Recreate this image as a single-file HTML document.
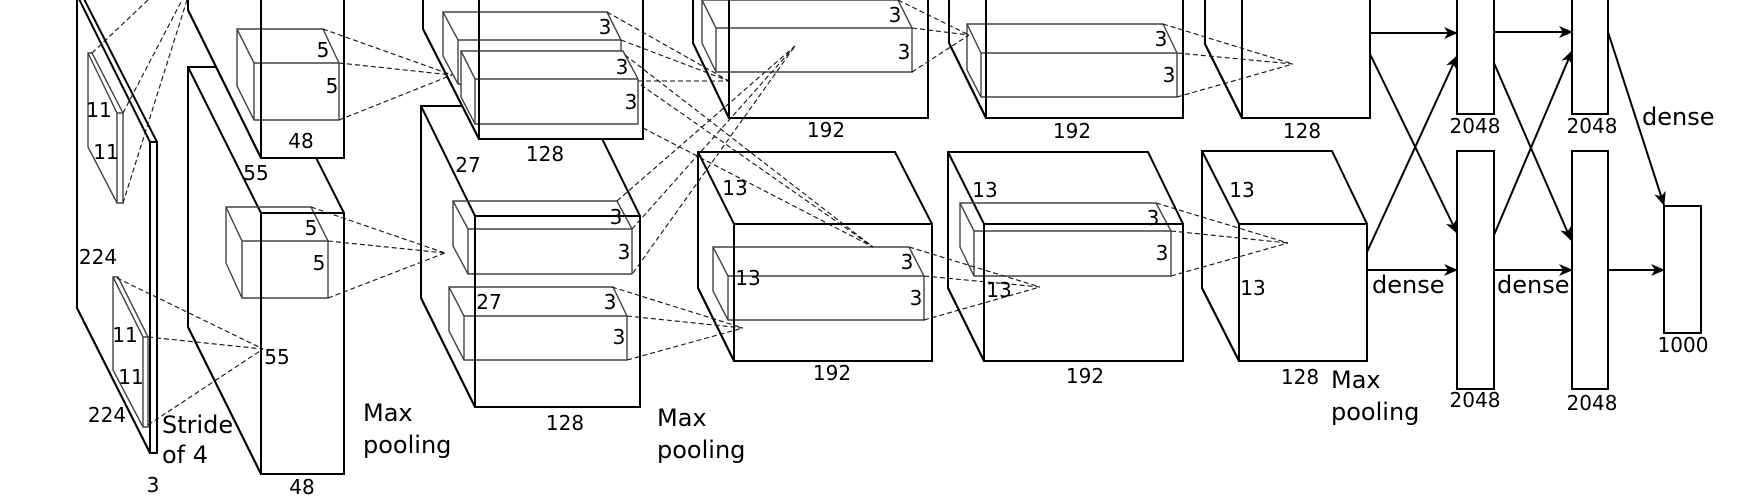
<!DOCTYPE html>
<html><head><meta charset="utf-8"><style>
html,body{margin:0;padding:0;background:#fff;}
svg{display:block;}
text{font-family:"DejaVu Sans","Liberation Sans",sans-serif;fill:#000;}
.n{font-size:20px;text-anchor:middle;dominant-baseline:central;}
.w{font-size:24px;dominant-baseline:central;}
.box{fill:#fff;stroke:#000;stroke-width:2;stroke-linejoin:miter;}
.boxl{fill:none;stroke:#000;stroke-width:2;}
.ker{fill:none;stroke:#444;stroke-width:1.4;}
.kerf{fill:#fff;stroke:#444;stroke-width:1.4;}
.dash{stroke:#111;stroke-width:1.1;stroke-dasharray:5,3;fill:none;}
.arr{stroke:#000;stroke-width:2;fill:none;}
</style></head><body>
<svg id="svg" width="1755" height="502" viewBox="0 0 1755 502" xmlns="http://www.w3.org/2000/svg">
<defs><marker id="ah" markerWidth="14" markerHeight="12" refX="13" refY="6" orient="auto" markerUnits="userSpaceOnUse"><path d="M0,0 L14,6 L0,12 L4,6 Z" fill="#000"/></marker></defs>
<g id="boxes"></g>
<g id="dashes"></g>
<g id="arrows"></g>
<g id="labels">
<text class="n" x="99" y="110">11</text><text class="n" x="106" y="152">11</text>
<text class="n" x="125" y="335">11</text><text class="n" x="131" y="377">11</text>
<text class="n" x="98" y="257">224</text><text class="n" x="107" y="415">224</text>
<text class="n" x="153" y="485">3</text>
<text class="w" x="162" y="425">Stride</text><text class="w" x="162" y="455">of 4</text>
<text class="n" x="323" y="50">5</text><text class="n" x="332" y="86">5</text>
<text class="n" x="311" y="228">5</text><text class="n" x="319" y="263">5</text>
<text class="n" x="301" y="141">48</text><text class="n" x="302" y="487">48</text>
<text class="n" x="256" y="173">55</text><text class="n" x="277" y="357">55</text>
<text class="w" x="363" y="413">Max</text><text class="w" x="363" y="445">pooling</text>
<text class="n" x="468" y="165">27</text><text class="n" x="489" y="302">27</text>
<text class="n" x="545" y="154">128</text><text class="n" x="565" y="423">128</text>
<text class="n" x="605" y="27">3</text><text class="n" x="622" y="67">3</text><text class="n" x="631" y="102">3</text>
<text class="n" x="616" y="217">3</text><text class="n" x="624" y="252">3</text>
<text class="n" x="610" y="302">3</text><text class="n" x="619" y="337">3</text>
<text class="w" x="657" y="418">Max</text><text class="w" x="657" y="450">pooling</text>
<text class="n" x="895" y="15">3</text><text class="n" x="904" y="52">3</text>
<text class="n" x="826" y="130">192</text>
<text class="n" x="735" y="188">13</text><text class="n" x="748" y="278">13</text>
<text class="n" x="907" y="262">3</text><text class="n" x="916" y="298">3</text>
<text class="n" x="832" y="373">192</text>
<text class="n" x="1161" y="39">3</text><text class="n" x="1169" y="75">3</text>
<text class="n" x="1072" y="131">192</text>
<text class="n" x="985" y="190">13</text><text class="n" x="999" y="290">13</text>
<text class="n" x="1153" y="218">3</text><text class="n" x="1162" y="253">3</text>
<text class="n" x="1085" y="376">192</text>
<text class="n" x="1302" y="131">128</text><text class="n" x="1300" y="377">128</text>
<text class="n" x="1242" y="190">13</text><text class="n" x="1253" y="288">13</text>
<text class="w" x="1331" y="380">Max</text><text class="w" x="1331" y="412">pooling</text>
<text class="n" x="1475" y="126">2048</text><text class="n" x="1592" y="126">2048</text>
<text class="n" x="1475" y="400">2048</text><text class="n" x="1592" y="403">2048</text>
<text class="n" x="1683" y="345">1000</text>
<text class="w" x="1642" y="117">dense</text>
<text class="w" x="1372" y="285">dense</text>
<text class="w" x="1497" y="285">dense</text>
</g>
</svg>
<script>
// cuboids: name, bx, by, btx, by2, fx0, fy0, fx1, fy1
const boxes = [
 ['input-layer',77,-5,82,308,150,142,157,453],
 ['conv1-bottom',188,67,270,327,261,213,344,474],
 ['conv1-top',188,-40,300,10,261,-40,344,158],
 ['conv2-bottom',421,106,586,298,475,216,640,407],
 ['conv2-top',423,-40,600,29,479,-40,643,139],
 ['conv3-top',693,-40,900,43,729,-40,928,118],
 ['conv3-bottom',698,152,895,288,734,224,932,361],
 ['conv4-top',949,-40,1150,43,986,-40,1183,118],
 ['conv4-bottom',948,152,1148,288,984,224,1183,361],
 ['conv5-top',1205,-40,1340,44,1242,-40,1370,118],
 ['conv5-bottom',1202,151,1332,288,1239,224,1367,361]
];
const kernels = [
 ['input-kernel-top',88,53,92,147,117,113,123,203,0],
 ['input-kernel-bottom',113,277,118,370,143,337,148,427,0],
 ['conv1-kernel-top',237,29,323,86,254,63,339,120,0],
 ['conv1-kernel-bottom',226,207,311,263,242,241,328,298,0],
 ['conv2-kernel-top-1',443,12,607,56,458,40,621,84,0],
 ['conv2-kernel-top-2',461,51,623,97,475,79,638,124,1],
 ['conv2-kernel-bottom-1',453,201,617,246,468,229,632,274,0],
 ['conv2-kernel-bottom-2',449,287,613,331,464,316,627,360,0],
 ['conv3-kernel-top',702,0,898,43,716,28,912,72,0],
 ['conv3-kernel-bottom',713,247,909,291,728,276,924,320,0],
 ['conv4-kernel-top',967,24,1163,70,981,53,1177,97,0],
 ['conv4-kernel-bottom',960,203,1156,247,974,231,1171,276,0]
];
const dense = [
 ['fc6-top',1457,-5,1494,114],['fc6-bottom',1457,151,1494,389],
 ['fc7-top',1572,-5,1608,114],['fc7-bottom',1572,151,1608,389],
 ['fc8-output',1664,206,1701,333]
];
const dashGroups = [
 [[[92,53],[148,0]],[[123,113],[182,0]],[[123,203],[187,0]]],
 [[[117,278],[263,349]],[[148,337],[263,349]],[[148,425],[263,349]]],
 [[[323,29],[452,75]],[[339,63],[452,75]],[[339,120],[452,75]]],
 [[[311,207],[445,253]],[[328,241],[445,253]],[[328,298],[445,253]]],
 [[[607,12],[729,81]],[[621,40],[729,81]],[[638,81],[729,81]]],
 [[[625,55],[873,247]],[[641,85],[873,247]],[[643,128],[873,247]]],
 [[[617,201],[795,46]],[[632,229],[795,46]],[[633,273],[795,46]]],
 [[[612,287],[743,328]],[[627,316],[743,328]],[[627,360],[743,328]]],
 [[[898,0],[969,35]],[[912,28],[969,35]],[[912,72],[969,35]]],
 [[[909,247],[1040,287]],[[924,276],[1040,287]],[[924,320],[1040,287]]],
 [[[1163,24],[1293,64]],[[1177,53],[1293,64]],[[1177,97],[1293,64]]],
 [[[1156,203],[1288,243]],[[1171,231],[1288,243]],[[1171,276],[1288,243]]]
];
const arrowList = [
 [1370,33,1457,33],[1370,54,1457,233],[1367,252,1457,56],[1367,270,1457,270],
 [1494,32,1572,32],[1494,63,1571,240],[1494,235,1572,51],[1494,270,1572,270],
 [1608,32,1664,205],[1608,270,1664,270]
];
const NS='http://www.w3.org/2000/svg';
const gB=document.getElementById('boxes'),gD=document.getElementById('dashes'),gA=document.getElementById('arrows');
function mk(tag,parent,cls,d){const e=document.createElementNS(NS,tag);e.setAttribute('class',cls);if(d)e.setAttribute('d',d);parent.appendChild(e);return e;}
function outline(b){return `M${b[1]},${b[2]} L${b[3]},${b[2]} L${b[7]},${b[6]} L${b[7]},${b[8]} L${b[5]},${b[8]} L${b[1]},${b[4]} Z`;}
function inner(b){return `M${b[1]},${b[2]} L${b[5]},${b[6]} L${b[7]},${b[6]} M${b[5]},${b[6]} L${b[5]},${b[8]}`;}
function front(b){return `M${b[5]},${b[6]} L${b[7]},${b[6]} L${b[7]},${b[8]} L${b[5]},${b[8]} Z M${b[1]},${b[2]} L${b[1]},${b[4]} L${b[5]},${b[8]}`;}
const kernOf={'input-layer':[0,1],'conv1-top':[2],'conv1-bottom':[3],'conv2-top':[4,5],'conv2-bottom':[6,7],'conv3-top':[8],'conv3-bottom':[9],'conv4-top':[10],'conv4-bottom':[11]};
boxes.forEach(b=>{
 const g=document.createElementNS(NS,'g');
 
 
 gB.appendChild(g);
 mk('path',g,'box',outline(b));
 mk('path',g,'boxl',inner(b));
 (kernOf[b[0]]||[]).forEach(i=>{
  const k=kernels[i];
  const kg=document.createElementNS(NS,'g');
  
  
  g.appendChild(kg);
  mk('path',kg,k[9]?'kerf':'ker',outline(k));
  mk('path',kg,'ker',inner(k));
 });
 mk('path',g,'boxl',front(b));
});
dense.forEach(r=>{
 const e=mk('rect',gB,'box');
 
 
 e.setAttribute('x',r[1]);e.setAttribute('y',r[2]);e.setAttribute('width',r[3]-r[1]);e.setAttribute('height',r[4]-r[2]);
});
dashGroups.forEach(gr=>gr.forEach(l=>{
 const e=mk('path',gD,'dash',`M${l[0][0]},${l[0][1]} L${l[1][0]},${l[1][1]}`);
 
 
}));
arrowList.forEach(a=>{
 const e=mk('path',gA,'arr',`M${a[0]},${a[1]} L${a[2]},${a[3]}`);
 e.setAttribute('marker-end','url(#ah)');
 
 
});
</script>
</body></html>
